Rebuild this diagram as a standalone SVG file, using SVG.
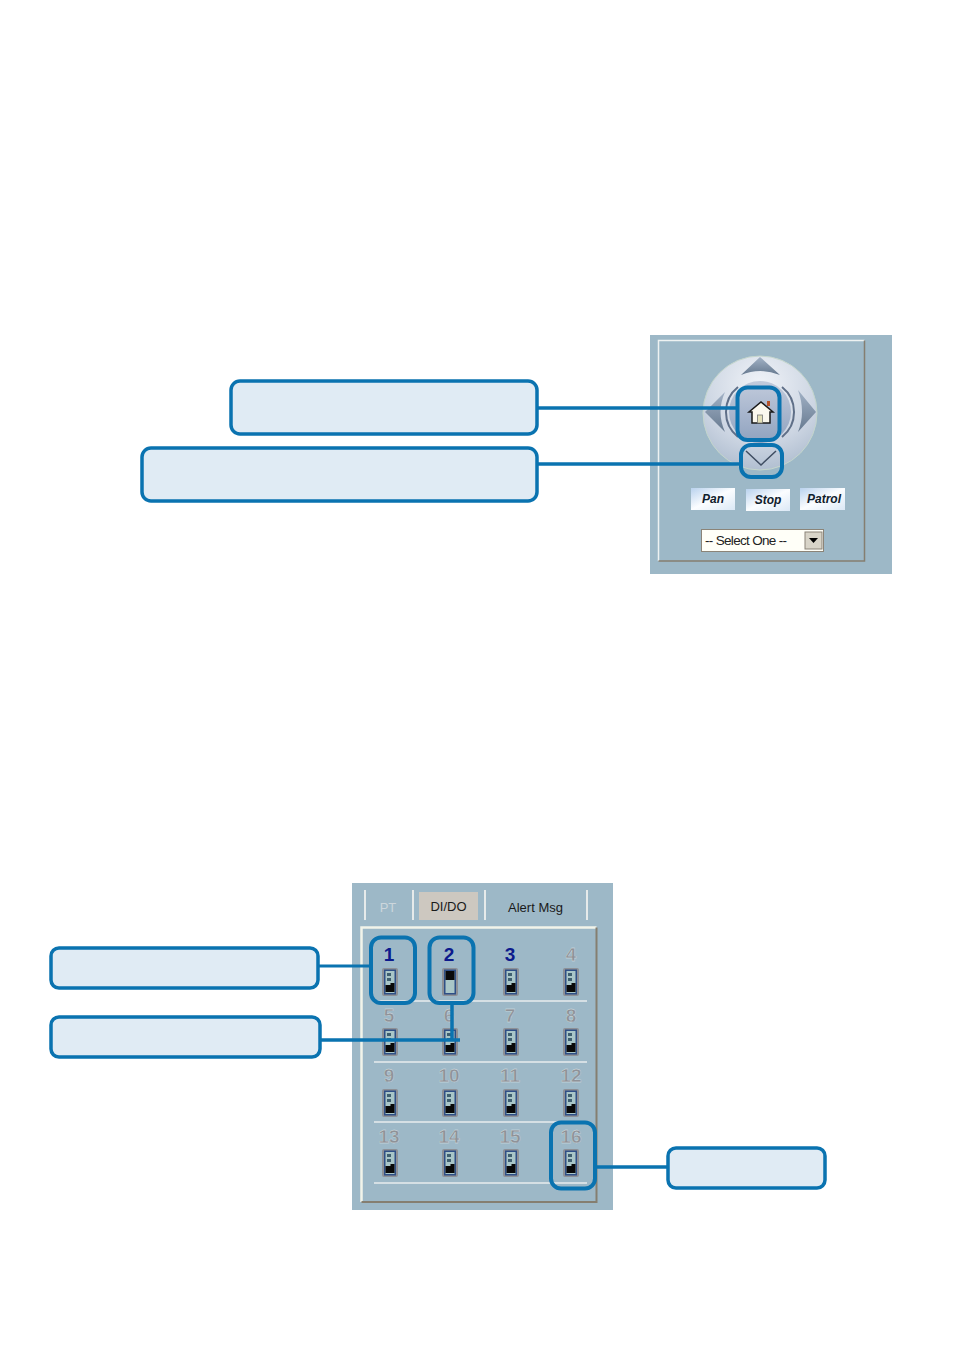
<svg xmlns="http://www.w3.org/2000/svg" width="954" height="1352" viewBox="0 0 954 1352">
<style>
.callout{fill:#e0ebf4;stroke:#0a73b0;stroke-width:3.5}
.hl{fill:none;stroke:#0a73b0;stroke-width:4}
.conn{fill:none;stroke:#0a73b0;stroke-width:3.5}
.thin{stroke-width:3}
.btn{font:italic bold 12px "Liberation Sans",Arial,sans-serif;fill:#10202c;text-anchor:middle}
.tab{font:13px "Liberation Sans",Arial,sans-serif;text-anchor:middle;fill:#1a1a1a}
.n{font:bold 19px "Liberation Sans",Arial,sans-serif;text-anchor:middle;fill:#8f9298;stroke:#dfe5e8;stroke-width:.3}
.on{fill:#0c1a8c;stroke:none}
.sep{stroke:#e6eaea;stroke-width:2}
.rule{stroke:#e8ecee;stroke-width:1.5}
</style>
<defs>
<radialGradient id="disc" cx="50%" cy="25%" r="85%"><stop offset="0" stop-color="#f0f3f8"/><stop offset=".6" stop-color="#ccd5e2"/><stop offset="1" stop-color="#a6b6ca"/></radialGradient>
<linearGradient id="hub" x1="0" y1="0" x2="0" y2="1"><stop offset="0" stop-color="#c2cbdc"/><stop offset="1" stop-color="#8fa2bf"/></linearGradient>
<linearGradient id="arr" x1="0" y1="0" x2="0" y2="1"><stop offset="0" stop-color="#a2b2c6"/><stop offset="1" stop-color="#66798f"/></linearGradient>
<linearGradient id="b" x1="0" y1="0" x2="1" y2="1"><stop offset="0" stop-color="#b9d2ee"/><stop offset=".5" stop-color="#fbfdff"/><stop offset="1" stop-color="#dbe8f6"/></linearGradient>
<g id="sw">
<rect x="-8" y="-14" width="16" height="28" rx="2" fill="#8d9096"/>
<rect x="-6" y="-12.500" width="12" height="25" fill="#2f4f86"/>
<rect x="-4.500" y="-11" width="9" height="22" fill="#a9c6c8"/>
<rect x="-3" y="-9" width="4" height="3" fill="#3f5f70"/>
<rect x="-3" y="-4" width="4" height="3" fill="#3f5f70"/>
<path d="M-4.500 3h5v-2h4v9h-9z" fill="#0a0a0a"/>
</g>
</defs>
<rect width="954" height="1352" fill="#fff"/>

<g id="ptz-panel">
<rect x="650" y="335" width="242" height="239" fill="#9db8c7"/>
<path d="M658.500 561V340.500H864.500" fill="none" stroke="#eef2f2" stroke-width="1.500"/>
<path d="M864.500 340.500V561H658.500" fill="none" stroke="#857e70" stroke-width="1.500"/>
<circle cx="760" cy="413" r="57" fill="url(#disc)" stroke="#c4d6cc"/>
<path d="M738 387A32 32 0 0 0 738 437M782 387A32 32 0 0 1 782 437" fill="none" stroke="#5f6f88" stroke-width="2"/>
<circle cx="760" cy="412" r="31" fill="url(#hub)"/>
<path d="M760 357L780 375Q760 367 741 375Z" fill="url(#arr)"/>
<path d="M705 412L725 392Q716 412 725 432Z" fill="url(#arr)"/>
<path d="M816 412L798 390Q806 412 798 432Z" fill="url(#arr)"/>
<path d="M746 451L761 465L776 451" fill="none" stroke="#3f4d62" stroke-width="1.500"/>
<path d="M752 423V412H749L761 402L773 412H770V423Z" fill="#fbf8ee" stroke="#1a1a1a" stroke-width="1.500"/>
<rect x="767" y="401" width="3" height="5" fill="#b5532b"/>
<rect x="757.500" y="415" width="5" height="8" fill="#e4e0b8" stroke="#777" stroke-width=".8"/>
</g>
<g id="btn-pan"><rect x="691" y="488" width="44" height="22" fill="url(#b)"/><text class="btn" x="713" y="503">Pan</text></g>
<g id="btn-stop"><rect x="746" y="489" width="44" height="22" fill="url(#b)"/><text class="btn" x="768" y="504">Stop</text></g>
<g id="btn-patrol"><rect x="800" y="488" width="45" height="22" fill="url(#b)"/><text class="btn" x="824" y="503">Patrol</text></g>
<g id="select">
<rect x="701.500" y="529.500" width="122" height="22" fill="#fffff8" stroke="#8b8478"/>
<text x="705" y="545" style="font:13.500px 'Liberation Sans',Arial,sans-serif" textLength="82" fill="#222">-- Select One --</text>
<rect x="805" y="532" width="17" height="17" fill="#d8d4c8" stroke="#8b8478"/>
<path d="M809 538h9l-4.500 5z" fill="#000"/>
</g>

<g id="io-panel">
<rect x="352" y="883" width="261" height="327" fill="#9db8c7"/>
<path d="M361.500 1202V927.500H596.500" fill="none" stroke="#f2f4ea" stroke-width="2.500"/>
<path d="M596.500 927.500V1202H361.500" fill="none" stroke="#857e70" stroke-width="2"/>
<rect x="419" y="892" width="59" height="28" fill="#cdc8c0"/>
<line class="sep" x1="365" y1="890" x2="365" y2="920"/>
<line class="sep" x1="413" y1="890" x2="413" y2="920"/>
<line class="sep" x1="485" y1="890" x2="485" y2="920"/>
<line class="sep" x1="587" y1="890" x2="587" y2="920"/>
<text class="tab" x="388" y="912" style="fill:#ccd6dc">PT</text>
<text class="tab" x="448.500" y="911">DI/DO</text>
<text class="tab" x="535.500" y="912">Alert Msg</text>
<line class="rule" x1="374" y1="1001" x2="587" y2="1001"/>
<line class="rule" x1="374" y1="1062" x2="587" y2="1062"/>
<line class="rule" x1="374" y1="1122" x2="587" y2="1122"/>
<line class="rule" x1="374" y1="1183" x2="587" y2="1183"/>
<g id="numbers">
<text class="n on" x="389" y="961">1</text><text class="n on" x="449" y="961">2</text><text class="n on" x="510" y="961">3</text><text class="n" x="571" y="961">4</text>
<text class="n" x="389" y="1022">5</text><text class="n" x="449" y="1022">6</text><text class="n" x="510" y="1022">7</text><text class="n" x="571" y="1022">8</text>
<text class="n" x="389" y="1082">9</text><text class="n" x="449" y="1082">10</text><text class="n" x="510" y="1082">11</text><text class="n" x="571" y="1082">12</text>
<text class="n" x="389" y="1143">13</text><text class="n" x="449" y="1143">14</text><text class="n" x="510" y="1143">15</text><text class="n" x="571" y="1143">16</text>
</g>
<g id="switches">
<use href="#sw" x="390" y="982"/>
<g transform="translate(450 982)"><rect x="-8" y="-14" width="16" height="28" rx="2" fill="#8d9096"/><rect x="-6" y="-12.500" width="12" height="25" fill="#2f4f86"/><rect x="-4.500" y="-11" width="9" height="22" fill="#a9c6c8"/><path d="M-4.500 -11h9v9h-9z" fill="#0a0a0a"/></g>
<use href="#sw" x="511" y="982"/><use href="#sw" x="571" y="982"/>
<use href="#sw" x="390" y="1042"/><use href="#sw" x="450" y="1042"/><use href="#sw" x="511" y="1042"/><use href="#sw" x="571" y="1042"/>
<use href="#sw" x="390" y="1103"/><use href="#sw" x="450" y="1103"/><use href="#sw" x="511" y="1103"/><use href="#sw" x="571" y="1103"/>
<use href="#sw" x="390" y="1163"/><use href="#sw" x="450" y="1163"/><use href="#sw" x="511" y="1163"/><use href="#sw" x="571" y="1163"/>
</g>
</g>

<g id="connectors">
<path class="conn" d="M537 408H737"/>
<path class="conn" d="M537 464H740"/>
<path class="conn thin" d="M312 966H371"/>
<path class="conn" d="M320 1040H460M452 1003V1040"/>
<path class="conn" d="M596 1167H668"/>
</g>

<g id="callout-home"><rect class="callout" x="231" y="381" width="306" height="53" rx="9"/></g>
<g id="callout-down"><rect class="callout" x="142" y="448" width="395" height="53" rx="9"/></g>
<g id="callout-1"><rect class="callout" x="51" y="948" width="267" height="40" rx="8"/></g>
<g id="callout-2"><rect class="callout" x="51" y="1017" width="269" height="40" rx="8"/></g>
<g id="callout-16"><rect class="callout" x="668" y="1148" width="157" height="40" rx="8"/></g>

<g id="highlight-home"><rect class="hl" x="737.500" y="387.500" width="42" height="52.500" rx="10"/></g>
<g id="highlight-down"><rect class="hl" x="741" y="445" width="41" height="32" rx="10"/></g>
<g id="highlight-1"><rect class="hl" x="371" y="937.500" width="44" height="65.500" rx="10"/></g>
<g id="highlight-2"><rect class="hl" x="429.500" y="937.500" width="44" height="65.500" rx="10"/></g>
<g id="highlight-16"><rect class="hl" x="551" y="1122.500" width="44" height="66" rx="10"/></g>
</svg>
